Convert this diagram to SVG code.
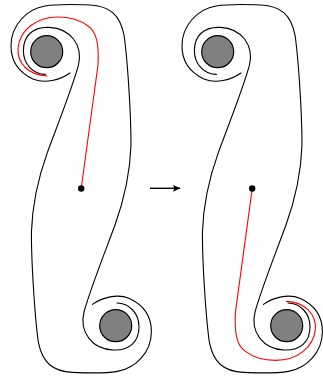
<svg xmlns="http://www.w3.org/2000/svg" width="323" height="378" viewBox="0 0 323 378">
<style>
.c{fill:none;stroke:#000;stroke-width:1.1;stroke-linecap:round}
.r{fill:none;stroke:#ff0000;stroke-width:1.1;stroke-linecap:round}
.disk{fill:#808080;stroke:#000;stroke-width:1.2}
.dot{fill:#000}
</style>
<defs>
<path id="A" d="M 70,73 C 60,80 45,84 33,79 C 18,72 11,60 11,46 C 11,25 27,9 45,6 C 60,3.5 75,4.5 90,5 C 110,6 120,15 124,35 C 127,55 131,110 131,145 C 130,175 124,200 115,225 C 105,252 90,290 84,312 C 79,332 92,349 113,350 C 130,351 139,341 139,327 C 139,313 129,303 117,303"/>
<path id="R" d="M 81.2,188.5 L 98,65 C 99,45 97,32 88,26 C 80,20 70,17 58,17 C 36,17 20,30 18,48 C 17,63 28,75 47,76"/>
<marker id="ah" markerWidth="10" markerHeight="10" refX="7" refY="5" orient="auto" markerUnits="userSpaceOnUse">
<path d="M 0,1.6 L 7.5,5 L 0,8.4 Q 2,5 0,1.6 Z" fill="#000"/>
</marker>
</defs>
<g id="left-figure">
<g id="left-curves">
<use href="#A" class="c"/>
<use href="#A" class="c" transform="rotate(180 81.2 188.7)"/>
<use href="#R" class="r"/>
</g>
<g id="left-top-disk"><circle class="disk" cx="46.7" cy="51.7" r="16"/></g>
<g id="left-bottom-disk"><circle class="disk" cx="115.7" cy="325.7" r="16"/></g>
<g id="left-point"><circle class="dot" cx="81.2" cy="188.5" r="3.2"/></g>
</g>
<g id="connectors">
<line x1="150" y1="188.3" x2="180" y2="188.3" stroke="#000" stroke-width="1.4" marker-end="url(#ah)"/>
</g>
<g id="right-figure" transform="translate(171,0)">
<g id="right-curves">
<use href="#A" class="c"/>
<use href="#A" class="c" transform="rotate(180 81.2 188.7)"/>
<use href="#R" class="r" transform="rotate(180 81.2 188.7)"/>
</g>
<g id="right-top-disk"><circle class="disk" cx="46.7" cy="51.7" r="16"/></g>
<g id="right-bottom-disk"><circle class="disk" cx="115.7" cy="325.7" r="16"/></g>
<g id="right-point"><circle class="dot" cx="81.2" cy="188.5" r="3.2"/></g>
</g>
</svg>
